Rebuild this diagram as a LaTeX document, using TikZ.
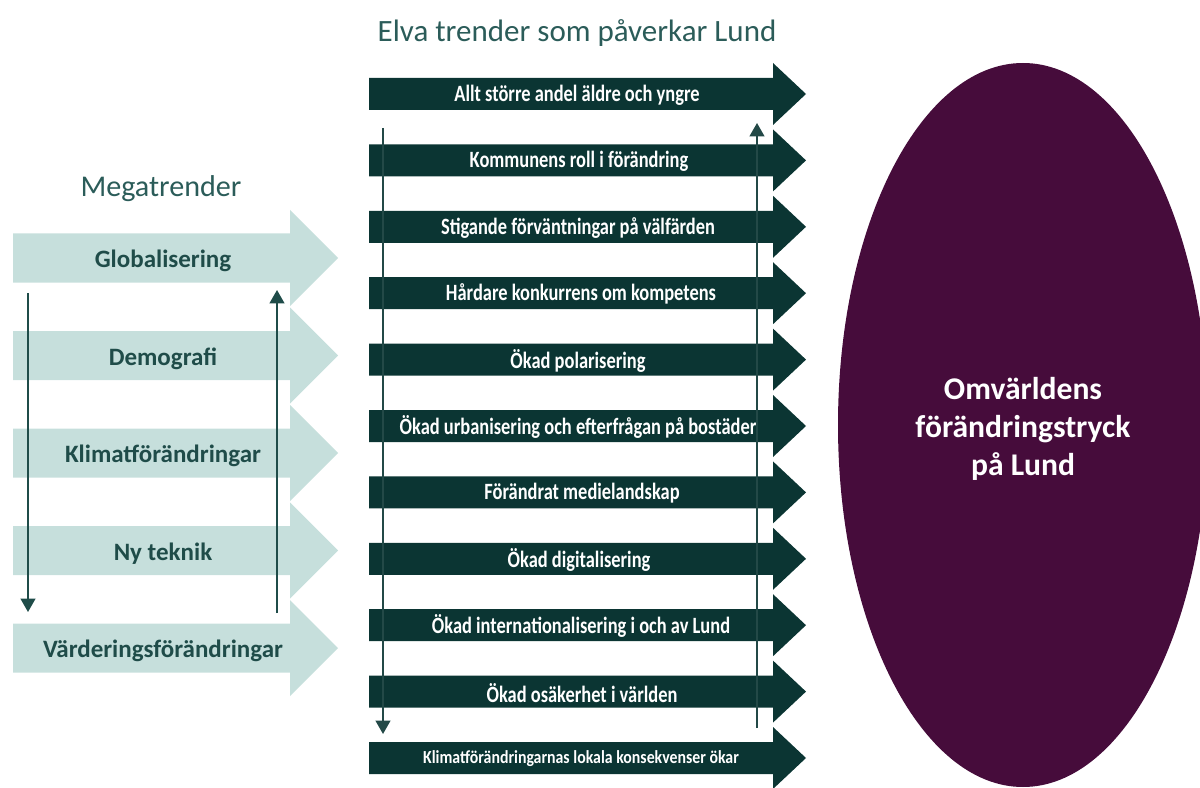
\documentclass[tikz,border=0pt]{standalone}
\usepackage{fontspec}
\setmainfont{Carlito}
\usepackage{graphicx}
\usetikzlibrary{arrows.meta,shapes.geometric}
\definecolor{darkteal}{HTML}{0B3533}
\definecolor{lightteal}{HTML}{C6DFDC}
\definecolor{titleteal}{HTML}{2B5C59}
\definecolor{labelteal}{HTML}{1F4C49}
\definecolor{plum}{HTML}{460C3B}
\tikzset{
  dlabel/.style={inner sep=0pt, text=white, font=\bfseries\fontsize{17.5}{18}\selectfont},
  mlabel/.style={inner sep=0pt, text=labelteal, yshift=-2.5pt, font=\bfseries\fontsize{18.75}{20}\selectfont},
  heading/.style={inner sep=0pt, text=titleteal, font=\fontsize{23.25}{26}\selectfont},
  vline/.style={line width=1.5pt, -{Triangle[width=11pt,length=10pt]}},
}
\newcommand{\trendshape}[1]{%
  \fill[darkteal] (369,#1-16) -- (773,#1-16) -- (773,#1-31) -- (806,#1) -- (773,#1+31) -- (773,#1+16) -- (369,#1+16) -- cycle;}
\newcommand{\megashape}[1]{%
  \fill[lightteal] (13,#1-24.5) -- (290,#1-24.5) -- (290,#1-48) -- (338,#1) -- (290,#1+48) -- (290,#1+24.5) -- (13,#1+24.5) -- cycle;}
\begin{document}
\begin{tikzpicture}[x=0.75pt,y=-0.75pt]
\useasboundingbox (0,0) rectangle (1200,788);
\clip (0,0) rectangle (1200,788);

% titles
\node[heading] (title) at (577,33) {Elva trender som påverkar Lund};
\node[heading, font=\fontsize{22.6}{26}\selectfont] (mega) at (161,188.5) {Megatrender};

% megatrend arrows
\megashape{258}
\node[mlabel] (m1) at (163,258) {Globalisering};
\megashape{355.5}
\node[mlabel] (m2) at (163,355.5) {Demografi};
\megashape{453}
\node[mlabel] (m3) at (163,453) {Klimatförändringar};
\megashape{550.5}
\node[mlabel] (m4) at (163,550.5) {Ny teknik};
\megashape{648}
\node[mlabel] (m5) at (163,648) {Värderingsförändringar};

% trend arrows
\trendshape{94}
\node[dlabel] (t1) at (577,95) {\scalebox{0.79}[1]{Allt större andel äldre och yngre}};
\trendshape{160.4}
\node[dlabel] (t2) at (579,161.4) {\scalebox{0.79}[1]{Kommunens roll i förändring}};
\trendshape{226.8}
\node[dlabel] (t3) at (578,227.8) {\scalebox{0.79}[1]{Stigande förväntningar på välfärden}};
\trendshape{293.2}
\node[dlabel] (t4) at (581,294.2) {\scalebox{0.79}[1]{Hårdare konkurrens om kompetens}};
\trendshape{359.6}
\node[dlabel] (t5) at (578,360.6) {\scalebox{0.79}[1]{Ökad polarisering}};
\trendshape{426}
\node[dlabel] (t6) at (578,427) {\scalebox{0.79}[1]{Ökad urbanisering och efterfrågan på bostäder}};
\trendshape{492.4}
\node[dlabel] (t7) at (582,493.4) {\scalebox{0.79}[1]{Förändrat medielandskap}};
\trendshape{558.8}
\node[dlabel] (t8) at (579,559.8) {\scalebox{0.79}[1]{Ökad digitalisering}};
\trendshape{625.2}
\node[dlabel] (t9) at (581,626.2) {\scalebox{0.79}[1]{Ökad internationalisering i och av Lund}};
\trendshape{691.6}
\node[dlabel] (t10) at (582,692.6) {\scalebox{0.79}[1]{Ökad osäkerhet i världen}};
\trendshape{758}
\node[dlabel] (t11) at (581,758.5) {\scalebox{0.86}[1]{\fontsize{13.8}{15}\selectfont Klimatförändringarnas lokala konsekvenser ökar}};

% vertical connectors
\coordinate (a1) at (28,293);
\coordinate (a2) at (28,612);
\coordinate (b1) at (277,613);
\coordinate (b2) at (277,290);
\coordinate (c1) at (383,128);
\coordinate (c2) at (383,734);
\coordinate (d1) at (757,728);
\coordinate (d2) at (757,123);
\draw[vline, labelteal] (a1) -- (a2);
\draw[vline, labelteal] (b1) -- (b2);
\draw[vline, darkteal, draw=white!10!darkteal] (c1) -- (c2);
\draw[vline, darkteal, draw=white!10!darkteal] (d1) -- (d2);

% pressure ellipse
\node[ellipse, fill=plum, inner sep=0pt, minimum width=277.5pt, minimum height=543pt,
      text=white, align=center, font=\bfseries\fontsize{23.7}{28.5}\selectfont]
  (press) at (1023,425) {};
\node[text=white, align=center, inner sep=0pt, font=\bfseries\fontsize{23.7}{28.5}\selectfont]
  (presslabel) at (1023,429) {Omvärldens\\förändringstryck\\på Lund};
\end{tikzpicture}
\end{document}
